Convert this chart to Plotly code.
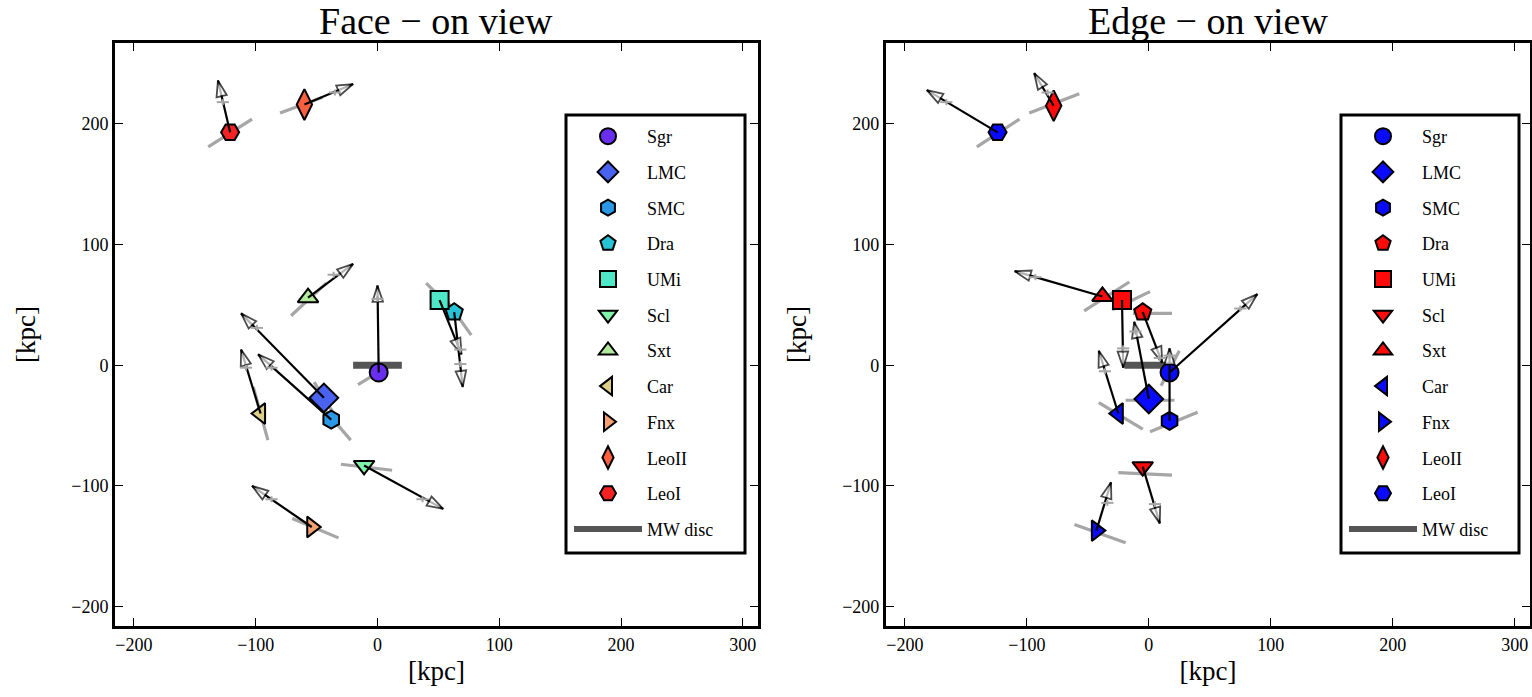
import plotly.graph_objects as go

# ---------------- data ----------------
names = ["Sgr", "LMC", "SMC", "Dra", "UMi", "Scl", "Sxt", "Car", "Fnx", "LeoII", "LeoI"]
symbols = ["circle", "diamond", "hexagon", "pentagon", "square", "triangle-down",
           "triangle-up", "triangle-left", "triangle-right", "diamond-tall", "hexagon2"]
msizes = [18, 22, 18, 18, 18, 18, 18, 18, 18, 22, 18]
face_colors = ["#6a2ef0", "#4a62f0", "#2a98e6", "#26c2d6", "#4ee8c8", "#80f2aa",
               "#b2ea9e", "#dccf88", "#f4a070", "#fa6040", "#f42222"]
edge_colors = ["#0a0aff", "#0a0aff", "#0a0aff", "#ff0a0a", "#ff0a0a", "#ff0a0a",
               "#ff0a0a", "#0a0aff", "#0a0aff", "#ff0a0a", "#0a0aff"]

# Face-on view: positions [kpc]
face_x = [1, -44, -38, 63, 51, -11, -57, -96, -54, -60, -121]
face_y = [-6, -27, -45, 44, 54, -83, 56, -40, -134, 216, 193]
# velocity arrow ends
face_ax = [0, -112, -98, 70, 69, 54, -20, -112, -103, -20, -131]
face_ay = [66, 43, 9, -18, 9, -119, 84, 13, -100, 233, 236]
# grey position-uncertainty segments
face_gx0 = [-16, -52, -44, 55, 40, -30, -71, -90, -70, -80, -139]
face_gy0 = [-16, -14, -36, 56, 68, -82, 41, -62, -127, 209, 181]
face_gx1 = [10, -36, -22, 77, 60, 12, -42, -102, -32, -45, -103]
face_gy1 = [0, -40, -62, 25, 48, -87, 68, -18, -143, 222, 204]
# grey velocity error crosses
face_ex = [0, -99, -87, 68, 68, 37, -36, -108, -87, -35, -127]
face_ey = [55, 31, -2, 1, 13, -111, 75, -2, -111, 226, 218]

# Edge-on view
edge_x = [17, 0, 17, -5, -22, -5, -38, -25, -43, -78, -124]
edge_y = [-6, -28, -46, 44, 54, -84, 57, -40, -137, 215, 193]
edge_ax = [89, -12, 17, 11, -21, 9, -110, -41, -31, -94, -182]
edge_ay = [59, 36, 14, 2, -2, -131, 78, 12, -97, 242, 228]
edge_gx0 = [10, -19, 1, -13, -30, -25, -53, -41, -61, -98, -141]
edge_gy0 = [-17, -29, -55, 43, 46, -89, 45, -31, -132, 209, 181]
edge_gx1 = [25, 21, 40, 19, 1, 19, -16, -5, -19, -57, -106]
edge_gy1 = [12, -29, -39, 43, 61, -91, 69, -53, -147, 225, 204]
edge_ex = [75, -11, 17, 9, -21, 5, -93, -36, -34, -83, -166]
edge_ey = [47, 28, 8, 6, 14, -115, 73, -5, -114, 226, 218]

err_x = [5] * 11
err_y = [2.5] * 11

disc_x = [-20, 20]
disc_y = [0, 0]

ticks = [-200, -100, 0, 100, 200, 300]
titles = ["Face \u2212 on view", "Edge \u2212 on view"]

SERIF = "Liberation Serif"
GREY = "#a6a6a6"

W, H = 1532, 697

fig = go.Figure()


def add_panel(xs, ys, axs, ays, gx0, gy0, gx1, gy1, ex, ey, colors, xa, ya, leg):
    # grey segments
    for i in range(len(names)):
        fig.add_trace(go.Scatter(x=[gx0[i], gx1[i]], y=[gy0[i], gy1[i]], mode="lines",
                                 line=dict(color=GREY, width=3.2), showlegend=False,
                                 hoverinfo="skip", xaxis=xa, yaxis=ya))
    # MW disc
    fig.add_trace(go.Scatter(x=disc_x, y=disc_y, mode="lines",
                             line=dict(color="#555555", width=7), showlegend=False,
                             hoverinfo="skip", xaxis=xa, yaxis=ya))
    # markers
    for i, n in enumerate(names):
        fig.add_trace(go.Scatter(x=[xs[i]], y=[ys[i]], mode="markers", name=n,
                                 marker=dict(symbol=symbols[i], size=msizes[i], color=colors[i],
                                             line=dict(color="black", width=2)),
                                 legend=leg, legendgroup=leg + n, xaxis=xa, yaxis=ya))
    # legend entry for disc
    fig.add_trace(go.Scatter(x=[None], y=[None], mode="lines", name="MW disc",
                             line=dict(color="#555555", width=6), legend=leg,
                             legendgroup=leg + "disc", xaxis=xa, yaxis=ya))
    # arrows
    for i in range(len(names)):
        fig.add_trace(go.Scatter(x=[xs[i], axs[i]], y=[ys[i], ays[i]], mode="lines+markers",
                                 line=dict(color="black", width=2.2, backoff=0),
                                 marker=dict(symbol=["circle", "arrow"], size=[0, 17],
                                             angleref="previous", color="white",
                                             line=dict(color="black", width=1.8)),
                                 showlegend=False, hoverinfo="skip", xaxis=xa, yaxis=ya))
    # velocity error crosses
    fig.add_trace(go.Scatter(x=ex, y=ey, mode="markers",
                             marker=dict(size=1, color=GREY),
                             error_x=dict(type="data", array=err_x, color=GREY, thickness=2, width=0),
                             error_y=dict(type="data", array=err_y, color=GREY, thickness=2, width=0),
                             showlegend=False, hoverinfo="skip", xaxis=xa, yaxis=ya))


add_panel(face_x, face_y, face_ax, face_ay, face_gx0, face_gy0, face_gx1, face_gy1,
          face_ex, face_ey, face_colors, "x", "y", "legend")
add_panel(edge_x, edge_y, edge_ax, edge_ay, edge_gx0, edge_gy0, edge_gx1, edge_gy1,
          edge_ex, edge_ey, edge_colors, "x2", "y2", "legend2")

axis_common = dict(showline=True, linecolor="black", linewidth=3, mirror="allticks",
                   ticks="inside", ticklen=8, tickwidth=1.3, tickcolor="black",
                   showgrid=False, zeroline=False,
                   tickfont=dict(family=SERIF, size=18, color="black"))
xr = [-215.5, 312.5]
yr = [-216, 267]
ydom = [0.1019, 0.9383]

legend_common = dict(y=1 - 118 / H, xanchor="left", yanchor="top",
                     borderwidth=0, bgcolor="rgba(0,0,0,0)",
                     font=dict(family=SERIF, size=18, color="black"),
                     traceorder="grouped", tracegroupgap=9.3, itemwidth=68,
                     itemsizing="trace")

xtitle = dict(text="[kpc]", font=dict(family=SERIF, size=27, color="black"), standoff=8)
ytitle = dict(text="[kpc]", font=dict(family=SERIF, size=27, color="black"), standoff=28)

fig.update_layout(
    width=W, height=H,
    margin=dict(l=0, r=0, t=0, b=0),
    paper_bgcolor="white", plot_bgcolor="white",
    xaxis=dict(domain=[0.0751, 0.4948], range=xr, tickvals=ticks, anchor="y",
               title=xtitle, **axis_common),
    yaxis=dict(domain=ydom, range=yr, tickvals=ticks[:-1], anchor="x",
               title=ytitle, **axis_common),
    xaxis2=dict(domain=[0.5783, 0.9987], range=xr, tickvals=ticks, anchor="y2",
                title=xtitle, **axis_common),
    yaxis2=dict(domain=ydom, range=yr, tickvals=ticks[:-1], anchor="x2",
                title=ytitle, **axis_common),
    legend=dict(x=569 / W, **legend_common),
    legend2=dict(x=1344 / W, **legend_common),
    showlegend=True,
)

# opaque legend frames (drawn above the data, below the legend entries)
for x0, x1 in [(566, 745), (1341, 1519)]:
    fig.add_shape(type="rect", xref="paper", yref="paper",
                  x0=x0 / W, x1=x1 / W, y0=1 - 553 / H, y1=1 - 115 / H,
                  line=dict(color="black", width=3), fillcolor="white", layer="above")

for t, xc in zip(titles, [0.2849, 0.7885]):
    fig.add_annotation(text=t, x=xc, y=1 - 21 / H, xref="paper", yref="paper",
                       xanchor="center", yanchor="middle", showarrow=False,
                       font=dict(family=SERIF, size=38, color="black"))

fig.write_html("out.html", config={"displayModeBar": False},
               post_script="document.body.style.margin='0';")
